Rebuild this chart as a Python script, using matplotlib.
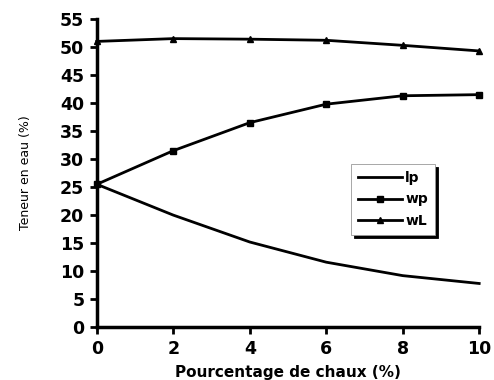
import matplotlib.pyplot as plt

# Pourcentage de chaux (%)
chaux = [0, 2, 4, 6, 8, 10]

# Teneur en eau (%)
ip = [25.5, 20.0, 15.2, 11.6, 9.2, 7.8]
wp = [25.5, 31.5, 36.5, 39.8, 41.3, 41.5]
wl = [51.0, 51.5, 51.4, 51.2, 50.3, 49.3]

plt.rcParams['font.family'] = ['DejaVu Sans']

fig = plt.figure(figsize=(4.94, 3.8), dpi=100)
ax = fig.add_axes([0.196, 0.139, 0.774, 0.811])

ax.plot(chaux, ip, color='black', lw=2, label='lp')
ax.plot(chaux, wp, color='black', lw=2, marker='s', ms=5, label='wp')
ax.plot(chaux, wl, color='black', lw=2, marker='^', ms=5, label='wL')

ax.set_xlim(0, 10)
ax.set_ylim(0, 55)
ax.set_xticks([0, 2, 4, 6, 8, 10])
ax.set_yticks(range(0, 60, 5))
ax.spines['top'].set_visible(False)
ax.spines['right'].set_visible(False)
ax.spines['left'].set_linewidth(2.5)
ax.spines['bottom'].set_linewidth(2.5)
ax.tick_params(direction='out', width=2, length=5, labelsize=12.5, pad=4)
for t in ax.get_xticklabels() + ax.get_yticklabels():
    t.set_fontweight('bold')

ax.set_xlabel('Pourcentage de chaux (%)', fontsize=11, fontweight='bold', labelpad=5)
ax.set_ylabel('Teneur en eau (%)', fontsize=9, labelpad=20)

leg = ax.legend(loc='upper left', bbox_to_anchor=(0.665, 0.53), fontsize=10,
                frameon=True, fancybox=False, shadow={'color': 'black', 'alpha': 1},
                handlelength=3.2, borderpad=0.5, labelspacing=0.55, handletextpad=0.2,
                borderaxespad=0)
leg.get_frame().set_edgecolor('#999999')
leg.get_frame().set_linewidth(0.6)
for txt in leg.get_texts():
    txt.set_fontweight('bold')

for line in ax.get_lines():
    line.set_clip_on(False)

fig.savefig('out.png', dpi=100)
